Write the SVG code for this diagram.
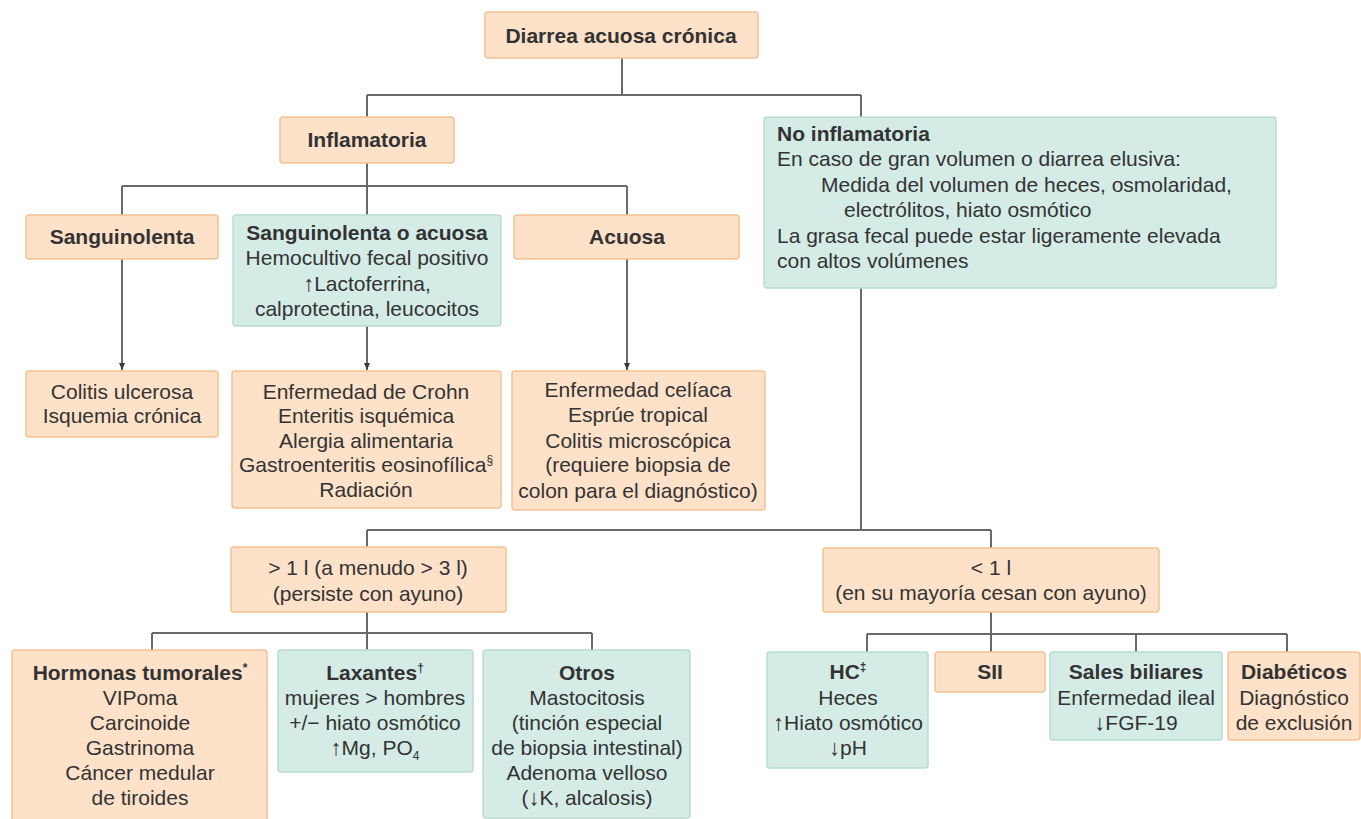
<svg xmlns="http://www.w3.org/2000/svg" width="1361" height="819" viewBox="0 0 1361 819">
  <defs>
    <style>
      .o { fill: #fde1c8; stroke: #f3c293; stroke-width: 1.5; }
      .t { fill: #d5ece6; stroke: #bbdbd3; stroke-width: 1.5; }
      text { font-family: "Liberation Sans", Arial, sans-serif; font-size: 21px; fill: #333333; }
      .c { text-anchor: middle; }
      .b { font-weight: bold; }
      .ln { stroke: #6a6a6a; stroke-width: 2; fill: none; }
      .sup { font-size: 12px; }
      .ar { font-size: 22px; }
    </style>
    <marker id="ah" markerWidth="8" markerHeight="8" refX="7" refY="4" orient="auto" markerUnits="userSpaceOnUse">
      <path d="M0,1 L7,4 L0,7 z" fill="#3a3a3a"/>
    </marker>
  </defs>
  <rect width="1361" height="819" fill="#ffffff"/>

  <!-- connectors -->
  <g id="connectors">
    <path class="ln" d="M622,58 V95 M367,95 H861 M367,95 V117 M861,95 V117"/>
    <path class="ln" d="M367,163 V186 M122,186 H627 M122,186 V215 M367,186 V215 M627,186 V215"/>
    <path class="ln" d="M122,259 V370" marker-end="url(#ah)"/>
    <path class="ln" d="M367,326 V370" marker-end="url(#ah)"/>
    <path class="ln" d="M627,259 V370" marker-end="url(#ah)"/>
    <path class="ln" d="M861,288 V530 M367,530 H991 M367,530 V547 M991,530 V548"/>
    <path class="ln" d="M367,612 V650 M152,633 H592 M152,633 V650 M592,633 V650"/>
    <path class="ln" d="M991,612 V652 M867,634 H1287 M867,634 V652 M1136,634 V652 M1287,634 V652"/>
  </g>

  <g id="diarrea">
    <rect class="o" x="485" y="12" width="273" height="46" rx="3"/>
    <text class="c b" x="621" y="43">Diarrea acuosa crónica</text>
  </g>

  <g id="inflamatoria">
    <rect class="o" x="280" y="117" width="174" height="46" rx="3"/>
    <text class="c b" x="367" y="147">Inflamatoria</text>
  </g>

  <g id="no-inflamatoria">
    <rect class="t" x="764" y="117" width="512" height="171" rx="3"/>
    <text class="b" x="777" y="141">No inflamatoria</text>
    <text x="777" y="166">En caso de gran volumen o diarrea elusiva:</text>
    <text x="821" y="192">Medida del volumen de heces, osmolaridad,</text>
    <text x="844" y="217">electrólitos, hiato osmótico</text>
    <text x="777" y="243">La grasa fecal puede estar ligeramente elevada</text>
    <text x="777" y="268">con altos volúmenes</text>
  </g>

  <g id="sanguinolenta">
    <rect class="o" x="26" y="215" width="192" height="44" rx="3"/>
    <text class="c b" x="122" y="244">Sanguinolenta</text>
  </g>

  <g id="sanguinolenta-acuosa">
    <rect class="t" x="233" y="215" width="268" height="111" rx="3"/>
    <text class="c b" x="367" y="240">Sanguinolenta o acuosa</text>
    <text class="c" x="367" y="265">Hemocultivo fecal positivo</text>
    <text class="c" x="367" y="291"><tspan class="ar">↑</tspan>Lactoferrina,</text>
    <text class="c" x="367" y="316">calprotectina, leucocitos</text>
  </g>

  <g id="acuosa">
    <rect class="o" x="514" y="215" width="225" height="44" rx="3"/>
    <text class="c b" x="627" y="244">Acuosa</text>
  </g>

  <g id="colitis">
    <rect class="o" x="26" y="371" width="192" height="66" rx="3"/>
    <text class="c" x="122" y="399">Colitis ulcerosa</text>
    <text class="c" x="122" y="423">Isquemia crónica</text>
  </g>

  <g id="crohn">
    <rect class="o" x="232" y="371" width="269" height="137" rx="3"/>
    <text class="c" x="366" y="399">Enfermedad de Crohn</text>
    <text class="c" x="366" y="423">Enteritis isquémica</text>
    <text class="c" x="366" y="448">Alergia alimentaria</text>
    <text class="c" x="366" y="472">Gastroenteritis eosinofílica<tspan class="sup" dy="-8">§</tspan></text>
    <text class="c" x="366" y="497">Radiación</text>
  </g>

  <g id="celiaca">
    <rect class="o" x="512" y="371" width="253" height="139" rx="3"/>
    <text class="c" x="638" y="397">Enfermedad celíaca</text>
    <text class="c" x="638" y="422">Esprúe tropical</text>
    <text class="c" x="638" y="448">Colitis microscópica</text>
    <text class="c" x="638" y="472">(requiere biopsia de</text>
    <text class="c" x="638" y="498">colon para el diagnóstico)</text>
  </g>

  <g id="mayor-1l">
    <rect class="o" x="231" y="547" width="275" height="65" rx="3"/>
    <text class="c" x="368" y="575">&gt; 1 l (a menudo &gt; 3 l)</text>
    <text class="c" x="368" y="601">(persiste con ayuno)</text>
  </g>

  <g id="menor-1l">
    <rect class="o" x="823" y="548" width="336" height="64" rx="3"/>
    <text class="c" x="991" y="575">&lt; 1 l</text>
    <text class="c" x="991" y="600">(en su mayoría cesan con ayuno)</text>
  </g>

  <g id="hormonas">
    <rect class="o" x="12" y="650" width="255" height="180" rx="3"/>
    <text class="c b" x="140" y="680">Hormonas tumorales<tspan class="sup" dy="-8">*</tspan></text>
    <text class="c" x="140" y="705">VIPoma</text>
    <text class="c" x="140" y="730">Carcinoide</text>
    <text class="c" x="140" y="755">Gastrinoma</text>
    <text class="c" x="140" y="780">Cáncer medular</text>
    <text class="c" x="140" y="805">de tiroides</text>
  </g>

  <g id="laxantes">
    <rect class="t" x="278" y="650" width="195" height="122" rx="3"/>
    <text class="c b" x="375" y="680">Laxantes<tspan class="sup" dy="-8">†</tspan></text>
    <text class="c" x="375" y="705">mujeres &gt; hombres</text>
    <text class="c" x="375" y="730">+/− hiato osmótico</text>
    <text class="c" x="375" y="755"><tspan class="ar">↑</tspan>Mg, PO<tspan class="sup" dy="5">4</tspan></text>
  </g>

  <g id="otros">
    <rect class="t" x="483" y="650" width="207" height="168" rx="3"/>
    <text class="c b" x="587" y="680">Otros</text>
    <text class="c" x="587" y="705">Mastocitosis</text>
    <text class="c" x="587" y="730">(tinción especial</text>
    <text class="c" x="587" y="755">de biopsia intestinal)</text>
    <text class="c" x="587" y="780">Adenoma velloso</text>
    <text class="c" x="587" y="805">(<tspan class="ar">↓</tspan>K, alcalosis)</text>
  </g>

  <g id="hc">
    <rect class="t" x="767" y="652" width="161" height="116" rx="3"/>
    <text class="c b" x="848" y="679">HC<tspan class="sup" dy="-8">‡</tspan></text>
    <text class="c" x="848" y="705">Heces</text>
    <text class="c" x="848" y="730"><tspan class="ar">↑</tspan>Hiato osmótico</text>
    <text class="c" x="848" y="755"><tspan class="ar">↓</tspan>pH</text>
  </g>

  <g id="sii">
    <rect class="o" x="935" y="652" width="110" height="40" rx="3"/>
    <text class="c b" x="990" y="679">SII</text>
  </g>

  <g id="sales-biliares">
    <rect class="t" x="1050" y="652" width="172" height="88" rx="3"/>
    <text class="c b" x="1136" y="679">Sales biliares</text>
    <text class="c" x="1136" y="705">Enfermedad ileal</text>
    <text class="c" x="1136" y="730"><tspan class="ar">↓</tspan>FGF-19</text>
  </g>

  <g id="diabeticos">
    <rect class="o" x="1228" y="652" width="132" height="88" rx="3"/>
    <text class="c b" x="1294" y="679">Diabéticos</text>
    <text class="c" x="1294" y="705">Diagnóstico</text>
    <text class="c" x="1294" y="730">de exclusión</text>
  </g>
</svg>
